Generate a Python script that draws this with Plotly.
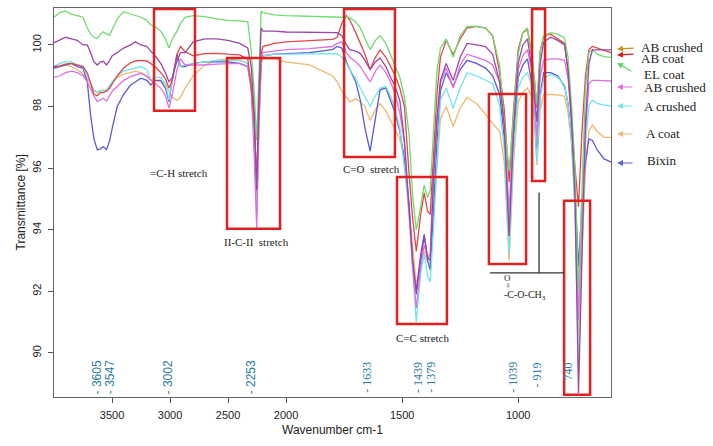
import plotly.graph_objects as go

# FTIR spectra (transmittance, %)
wavenumber = [
    4000, 3950, 3900, 3850, 3800, 3750,
    3713, 3684, 3656, 3627, 3600, 3575, 3547, 3520, 3498,
    3455, 3400, 3340, 3300, 3250, 3200, 3166,
    3130, 3080, 3040, 3009, 2980, 2940, 2910, 2870,
    2800, 2700, 2600, 2500, 2400, 2330, 2300, 2275, 2253, 2235, 2215, 2200,
    2100, 2000, 1900, 1800, 1780, 1760, 1740, 1725,
    1700, 1680, 1660, 1638, 1615, 1595, 1570, 1550, 1530,
    1510, 1490, 1470, 1455, 1439, 1420, 1405, 1390, 1379, 1365, 1350, 1335,
    1310, 1280, 1250, 1220, 1180, 1140, 1110, 1080, 1060,
    1039, 1020, 1000, 980, 960, 940, 930, 919, 905, 890, 860,
    830, 800, 785, 770, 755, 740, 725, 710, 695, 680, 660, 630, 600,
]

bixin = [
    99.25, 99.3, 99.35, 99.4, 99.3, 99.25,
    98.8, 97.7, 96.95, 96.6, 96.62, 96.7, 96.6, 96.9, 97.3,
    98.0, 98.4, 98.7, 98.8, 98.92, 98.85, 98.7,
    98.85, 98.85, 98.6, 98.15, 98.9, 99.7, 99.3, 99.3,
    99.4, 99.45, 99.45, 99.45, 99.4, 99.3, 98.6, 97.0, 94.6, 97.5, 99.4, 99.65,
    99.7, 99.72, 99.75, 99.85, 99.95, 99.9, 99.45, 99.2,
    98.8, 98.2, 97.3, 96.55, 97.7, 98.55, 98.6, 98.2, 97.8,
    97.2, 96.3, 94.8, 93.0, 91.9, 93.0, 93.8, 93.0, 92.7, 94.6, 96.8, 98.5,
    99.1, 98.65, 99.2, 99.5, 99.4, 99.25, 99.0, 98.4, 97.0,
    93.8, 96.9, 98.95, 99.35, 99.55, 98.7, 97.8, 96.4, 98.4, 99.1, 99.1,
    99.0, 98.65, 98.1, 97.0, 95.2, 92.8, 94.8, 96.2, 96.95, 96.9, 96.6, 96.3, 96.2,
]

a_coat = [
    99.25, 99.3, 99.35, 99.3, 99.2, 99.05,
    98.9, 98.75, 98.55, 98.45, 98.5, 98.55, 98.5, 98.65, 98.8,
    98.95, 99.05, 99.1, 99.15, 99.1, 98.95, 98.85,
    98.85, 98.8, 98.75, 98.5, 98.3, 98.2, 98.3, 98.6,
    99.0, 99.35, 99.5, 99.55, 99.5, 99.4, 98.9, 97.5, 95.0, 97.8, 99.4, 99.55,
    99.55, 99.45, 99.35, 99.0, 98.8, 98.5, 98.3, 98.15,
    98.25, 98.15, 98.0, 97.55, 97.9, 98.1, 97.85, 97.55, 97.2,
    96.95, 96.3, 94.7, 93.3, 92.2, 93.0, 93.3, 92.95, 92.9, 94.5, 96.0, 97.6,
    98.0, 97.35, 97.95, 98.3, 98.1, 97.75, 97.45, 97.2, 96.2,
    93.0, 96.2, 98.15, 98.45, 98.6, 98.3, 97.4, 96.1, 97.9, 98.4, 98.4,
    98.38, 98.33, 97.8, 96.8, 94.8, 90.5, 93.5, 96.0, 97.2, 97.4, 97.2, 97.0, 97.0,
]

a_crushed = [
    99.3, 99.4, 99.45, 99.45, 99.35, 99.3,
    99.0, 98.75, 98.5, 98.48, 98.52, 98.5, 98.55, 98.7, 98.8,
    99.0, 99.15, 99.2, 99.25, 99.3, 99.2, 98.85,
    98.95, 98.95, 98.75, 98.2, 98.9, 99.5, 99.3, 99.35,
    99.4, 99.45, 99.5, 99.5, 99.5, 99.4, 98.7, 96.8, 94.3, 97.3, 99.4, 99.65,
    99.7, 99.7, 99.72, 99.73, 99.72, 99.6, 99.4, 99.2,
    98.9, 98.6, 98.3, 98.0, 98.35, 98.6, 98.65, 98.35, 97.9,
    97.3, 96.0, 94.5, 92.8, 91.0, 92.6, 93.2, 92.5, 92.3, 94.0, 96.2, 98.2,
    98.6, 97.95, 98.6, 99.1, 99.0, 98.85, 98.75, 98.05, 96.6,
    93.2, 96.5, 98.6, 98.95, 99.1, 98.6, 97.7, 96.2, 98.3, 98.9, 99.05,
    98.95, 98.7, 98.05, 96.9, 94.5, 89.4, 93.8, 96.8, 98.05, 98.2, 98.1, 98.05, 98.02,
]

ab_crushed_2 = [
    98.95, 99.0, 99.1, 99.15, 99.1, 99.0,
    98.8, 98.55, 98.35, 98.16, 98.22, 98.27, 98.18, 98.35, 98.5,
    98.65, 98.85, 98.97, 99.02, 99.08, 99.0, 98.86,
    98.75, 98.6, 98.35, 97.95, 98.4, 99.2, 99.55, 99.35,
    99.35, 99.35, 99.38, 99.4, 99.4, 99.3, 98.6, 96.5, 94.05, 97.2, 99.5, 99.75,
    99.8, 99.85, 99.88, 99.95, 100.05, 100.1, 99.75, 99.6,
    99.45, 99.3, 99.05, 98.8, 99.15, 99.35, 99.1, 98.8, 98.4,
    97.8, 96.8, 94.6, 92.8, 91.45, 92.8, 93.5, 93.1, 93.2, 95.9, 97.5, 98.75,
    99.25, 98.6, 99.35, 99.7, 99.6, 99.5, 99.35, 98.8, 97.4,
    94.6, 97.5, 99.2, 99.65, 99.85, 99.1, 98.3, 97.0, 99.0, 99.5, 99.55,
    99.55, 99.5, 98.9, 97.5, 95.5, 91.1, 94.5, 97.2, 98.75, 98.85, 98.85, 98.85, 98.83,
]

ab_crushed_1 = [
    100.07, 100.15, 100.25, 100.2, 100.15, 100.0,
    100.0, 99.75, 99.45, 99.35, 99.45, 99.47, 99.35, 99.5, 99.65,
    99.75, 99.9, 100.0, 100.1, 100.0, 99.95, 99.8,
    99.65, 99.4, 99.1, 98.8, 98.95, 99.5, 99.75, 99.75,
    100.1, 100.2, 100.2, 100.15, 100.05, 99.9, 99.3, 97.8, 95.3, 98.2, 100.55, 100.45,
    100.45, 100.42, 100.4, 100.38, 100.4, 100.3, 100.0, 99.85,
    99.8, 99.72, 99.5, 99.2, 99.45, 99.58, 99.3, 98.95, 98.65,
    98.2, 96.9, 94.7, 93.0, 92.0, 93.2, 93.85, 93.1, 93.0, 95.6, 97.6, 98.85,
    99.4, 98.85, 99.6, 100.05, 100.0, 99.95, 99.7, 98.8, 97.4,
    93.8, 97.2, 99.4, 100.0, 100.2, 99.2, 98.5, 97.5, 99.4, 100.1, 100.25,
    100.15, 100.0, 99.15, 97.6, 95.0, 88.7, 93.6, 97.5, 99.4, 99.84, 99.84, 99.84, 99.84,
]

ab_coat = [
    99.3, 99.32, 99.38, 99.4, 99.35, 99.3,
    99.1, 98.7, 98.4, 98.35, 98.45, 98.45, 98.5, 98.6, 98.75,
    99.0, 99.25, 99.42, 99.48, 99.5, 99.48, 99.4,
    99.3, 99.1, 98.9, 98.6, 98.85, 99.7, 99.95, 99.78,
    99.65, 99.72, 99.73, 99.7, 99.68, 99.55, 98.6, 97.6, 95.6, 97.9, 99.7, 99.95,
    100.05, 100.1, 100.13, 100.18, 100.25, 100.7, 100.95, 100.8,
    100.4, 100.05, 99.7, 99.2, 99.6, 99.84, 99.6, 99.3, 99.0,
    98.6, 98.0, 95.8, 94.4, 93.3, 94.5, 95.2, 94.6, 94.5, 96.6, 98.4, 99.6,
    100.15, 99.68, 100.2, 100.55, 100.6, 100.55, 100.3, 99.1, 97.9,
    95.55, 97.9, 99.85, 100.4, 100.5, 99.6, 98.9, 97.95, 99.8, 100.3, 100.35,
    100.2, 100.05, 99.2, 97.5, 96.0, 94.75, 97.2, 99.0, 99.85, 99.95, 99.9, 99.8, 99.75,
]

el_coat = [
    100.9, 101.05, 101.1, 101.0, 100.95, 100.9,
    100.55, 100.35, 100.25, 100.22, 100.35, 100.43, 100.35, 100.32, 100.5,
    100.85, 101.08, 101.0, 100.95, 100.9, 100.8, 100.65,
    100.6, 100.45, 100.2, 99.9, 100.2, 100.45, 100.7, 100.9,
    100.95, 100.92, 100.85, 100.8, 100.78, 100.75, 99.8, 98.5, 96.9, 99.0, 101.1, 101.05,
    100.98, 100.95, 100.92, 100.9, 100.9, 100.9, 100.92, 100.88,
    100.75, 100.55, 100.2, 99.85, 100.15, 100.3, 100.05, 99.7, 99.3,
    98.95, 98.3, 97.1, 95.1, 94.0, 94.75, 95.45, 95.05, 95.3, 97.2, 99.15, 99.9,
    100.2, 99.6, 100.3, 100.6, 100.6, 100.55, 100.3, 99.35, 97.5,
    95.9, 97.8, 99.7, 100.4, 100.55, 99.6, 98.9, 98.05, 99.8, 100.3, 100.4,
    100.35, 100.22, 99.6, 98.05, 95.9, 92.0, 95.5, 98.6, 99.75, 99.85, 99.7, 99.62, 99.6,
]

peak_labels = [3605, 3547, 3002, 2253, 1633, 1439, 1379, 1039, 919, 740]

legend_names = ["AB crushed", "AB coat", "EL coat", "AB crushed", "A crushed", "A coat", "Bixin"]
legend_colors = ["#c8921e", "#d82020", "#5fd85f", "#e070e0", "#6fe6ea", "#efb870", "#6060d0"]


def to_axis(wn):
    # the instrument halves the scale above 2000 cm-1
    return wn if wn <= 2000 else 2000 + (wn - 2000) / 2


x = [to_axis(w) for w in wavenumber]

fig = go.Figure()
series = [
    (a_coat, "#efb870"),
    (bixin, "#5a5ad2"),
    (a_crushed, "#6fe6ea"),
    (ab_crushed_2, "#e070e0"),
    (ab_coat, "#e04848"),
    (el_coat, "#6fdc6f"),
    (ab_crushed_1, "#9a48a6"),
]
for vals, col in series:
    fig.add_trace(go.Scatter(x=x, y=vals, mode="lines",
                             line=dict(color=col, width=1.3), hoverinfo="skip"))

# red boxes round the assigned bands: (wn left, wn right, top, bottom)
boxes = [
    (3138, 2785, 101.17, 97.86),
    (2509, 2052, 99.58, 94.03),
    (1750, 1531, 101.17, 96.36),
    (1522, 1307, 95.71, 90.94),
    (1126, 966, 98.41, 92.89),
    (940, 884, 101.17, 95.58),
    (802, 690, 94.94, 88.64),
]
for l, r, top, bot in boxes:
    fig.add_shape(type="rect", x0=to_axis(l), x1=to_axis(r), y0=bot, y1=top,
                  line=dict(color="#e02020", width=2.5))

# bracket for the ester group
fig.add_shape(type="line", x0=910, x1=910, y0=95.2, y1=92.6,
              line=dict(color="#333", width=1.3))
fig.add_shape(type="line", x0=1121, x1=802, y0=92.6, y1=92.6,
              line=dict(color="#333", width=1.3))

serif = "Liberation Serif"
sans = "Liberation Sans"

band_text = [
    ("=C-H stretch", 2922, 95.84, 11, 0),
    ("II-C-II  stretch", 2259, 93.6, 11, 0),
    ("C=O  stretch", 1634, 95.97, 11, 0),
    ("C=C stretch", 1414, 90.49, 11, 0),
    ("O", 1046, 92.43, 9, 0),
    ("=", 1046, 92.2, 9, 90),
    ("-C-O-CH<sub>3</sub>", 970, 91.88, 10, 0),
]
for txt, wn, yv, fs, ang in band_text:
    fig.add_annotation(x=to_axis(wn), y=yv, text=txt, showarrow=False, textangle=ang,
                       font=dict(family=serif, size=fs, color="#222"))

# the printed labels sit a few pixels off their bands
label_nudge = [-3, 3, -2, -6, -5, 1, 0, 3, 0, -10]
for p, dx in zip(peak_labels, label_nudge):
    fam = sans if p > 2000 else serif
    if p == 740:
        txt, yv = str(p), 89.38
    else:
        txt, yv = "- " + str(p), (89.2 if p >= 1000 else 89.3)
    fig.add_annotation(x=to_axis(p), y=yv, text=txt, textangle=-90,
                       xshift=dx, showarrow=False,
                       xanchor="center", yanchor="middle",
                       font=dict(family=fam, size=12, color="#2a7d9c"))


# legend drawn as arrows at the right, in pixel positions of the page
def px(xp):
    return (xp - 54) / 557


def py(yp):
    return (397 - yp) / 389


heads = [49, 55, 63, 87, 106, 134, 163]
tails = [(18, -1), (18, -1), (16, 9), (17, 0), (17, 0), (17, 0), (17, 0)]
text_pos = [(639, 47), (639, 59), (642, 74), (642, 87), (642, 106), (644, 133), (645, 160)]
for name, col, hy, (ax, ay), (tx, ty) in zip(legend_names, legend_colors, heads, tails, text_pos):
    fig.add_annotation(x=px(617), y=py(hy), xref="paper", yref="paper",
                       text="", showarrow=True, ax=ax, ay=ay,
                       arrowhead=2, arrowsize=1, arrowwidth=1.2, arrowcolor=col)
    fig.add_annotation(x=px(tx), y=py(ty), xref="paper", yref="paper",
                       text=name, showarrow=False, xanchor="left", yanchor="middle",
                       font=dict(family=serif, size=13, color="#222"))

fig.add_annotation(x=0.5, y=py(430), xref="paper", yref="paper",
                   text="Wavenumber cm-1", showarrow=False,
                   xanchor="center", yanchor="middle",
                   font=dict(family=sans, size=12, color="#222"))
fig.add_annotation(x=px(20), y=0.5, xref="paper", yref="paper",
                   text="Transmittance [%]", textangle=-90, showarrow=False,
                   xanchor="center", yanchor="middle",
                   font=dict(family=sans, size=12, color="#222"))

tick_wn = [3500, 3000, 2500, 2000, 1500, 1000]
fig.update_xaxes(range=[3000, 600], tickvals=[to_axis(w) for w in tick_wn],
                 ticktext=[str(w) for w in tick_wn], showgrid=False, zeroline=False,
                 showline=True, linecolor="#666", mirror=True, ticks="outside",
                 ticklen=5, tickcolor="#555", ticklabelstandoff=3,
                 tickfont=dict(family=sans, size=11, color="#222"))
fig.update_yaxes(range=[88.57, 101.2], tickvals=[90, 92, 94, 96, 98, 100],
                 tickangle=-90, showgrid=False, zeroline=False,
                 showline=True, linecolor="#666", mirror=True, ticks="outside",
                 ticklen=5, tickcolor="#555", ticklabelstandoff=3,
                 tickfont=dict(family=sans, size=11, color="#222"))
fig.update_layout(width=713, height=446, showlegend=False,
                  margin=dict(l=54, r=102, t=8, b=49),
                  paper_bgcolor="white", plot_bgcolor="white")

fig.write_html("out.html", config={"displayModeBar": False},
               post_script="document.body.style.margin='0';")
